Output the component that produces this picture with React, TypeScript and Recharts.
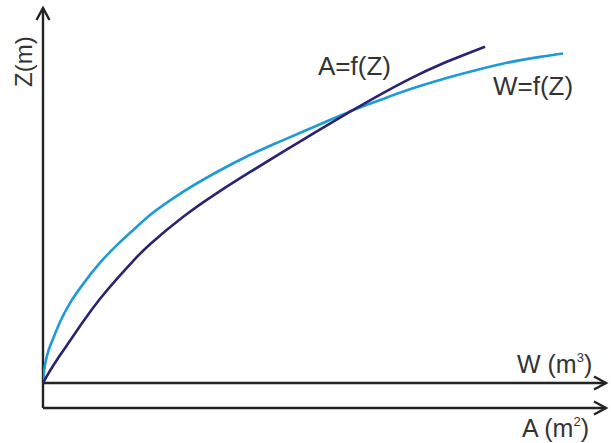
import React from "react";
import { LineChart, Line, XAxis, YAxis, ReferenceLine } from "recharts";

// W = f(Z) curve (light blue): horizontal value, Z value
const wX = [0, 0.18, 0.54, 1.08, 1.79, 3.05, 4.84, 7.18, 10.2, 13.3, 16.2, 19.2, 25.1, 31.2, 37.1, 43.1, 49.2, 55.1, 60.5, 65.8, 71.2, 77.1, 83.2, 89.2, 93.3];
const wZ = [0, 2.95, 6.16, 9.11, 11.8, 16.35, 21.4, 26.5, 32.2, 37.0, 41.0, 45.0, 51.2, 56.55, 61.1, 65.1, 69.0, 72.8, 75.85, 78.7, 81.2, 83.6, 85.8, 87.4, 88.3];

// A = f(Z) curve (dark navy)
const aX = [0, 1.26, 3.05, 4.84, 7.18, 10.2, 13.3, 16.2, 19.2, 25.1, 31.2, 37.1, 43.1, 49.2, 55.1, 60.5, 65.8, 71.2, 79.3];
const aZ = [0, 3.28, 7.44, 11.3, 16.4, 22.5, 28.0, 32.75, 37.2, 44.5, 50.9, 56.5, 62.0, 67.5, 72.7, 77.3, 81.5, 85.3, 90.1];

const X_MAX = 101;
const Z_MIN = -6.7;
const Z_MAX = 100.5;

const wData = wX.map((x, i) => ({ x, z: wZ[i] }));
const aData = aX.map((x, i) => ({ x, z: aZ[i] }));

const AXIS = "#232323";
const TEXT = "#333333";
const FONT = "'Liberation Sans', Arial, sans-serif";

const ArrowLine = (p: any) => {
  const { x1, y1, x2, y2 } = p;
  const dx = x2 - x1;
  const dy = y2 - y1;
  const len = Math.sqrt(dx * dx + dy * dy) || 1;
  const ux = dx / len;
  const uy = dy / len;
  const back = 12;
  const side = 6.5;
  const bx = x2 - ux * back;
  const by = y2 - uy * back;
  const px = -uy * side;
  const py = ux * side;
  return (
    <g>
      <line x1={x1} y1={y1} x2={x2} y2={y2} stroke={AXIS} strokeWidth={2.4} />
      <polyline
        points={`${bx + px},${by + py} ${x2},${y2} ${bx - px},${by - py}`}
        fill="none"
        stroke={AXIS}
        strokeWidth={2.4}
      />
    </g>
  );
};

export default function App() {
  return (
    <div style={{ position: "absolute", left: 0, top: 0, width: 611, height: 443, background: "#fff" }}>
      <LineChart
        width={611}
        height={443}
        margin={{ top: 8, right: 5, bottom: 35, left: 43 }}
      >
        <XAxis type="number" dataKey="x" domain={[0, X_MAX]} hide allowDataOverflow />
        <YAxis type="number" dataKey="z" domain={[Z_MIN, Z_MAX]} hide allowDataOverflow width={0} />
        <ReferenceLine
          segment={[{ x: 0, y: Z_MIN }, { x: 0, y: Z_MAX }]}
          shape={ArrowLine}
          ifOverflow="visible"
        />
        <ReferenceLine
          segment={[{ x: 0, y: 0 }, { x: X_MAX, y: 0 }]}
          shape={ArrowLine}
          ifOverflow="visible"
        />
        <ReferenceLine
          segment={[{ x: 0, y: Z_MIN }, { x: X_MAX, y: Z_MIN }]}
          shape={ArrowLine}
          ifOverflow="visible"
        />
        <Line
          data={wData}
          dataKey="z"
          type="monotone"
          stroke="#1d9bd7"
          strokeWidth={2.6}
          dot={false}
          isAnimationActive={false}
        />
        <Line
          data={aData}
          dataKey="z"
          type="natural"
          stroke="#2a2370"
          strokeWidth={2.6}
          dot={false}
          isAnimationActive={false}
        />
        <text x={318} y={75} fontFamily={FONT} fontSize={26} fill={TEXT}>A=f(Z)</text>
        <text x={493} y={95} fontFamily={FONT} fontSize={26} fill={TEXT}>W=f(Z)</text>
        <text x={517} y={373} fontFamily={FONT} fontSize={25} fill={TEXT}>
          W (m<tspan fontSize={13} dy={-11}>3</tspan><tspan dy={11}>)</tspan>
        </text>
        <text x={522} y={437} fontFamily={FONT} fontSize={25} fill={TEXT}>
          A (m<tspan fontSize={13} dy={-11}>2</tspan><tspan dy={11}>)</tspan>
        </text>
        <text
          x={32}
          y={87}
          transform="rotate(-90 32 87)"
          fontFamily={FONT}
          fontSize={24}
          fill={TEXT}
        >
          Z(m)
        </text>
      </LineChart>
    </div>
  );
}
